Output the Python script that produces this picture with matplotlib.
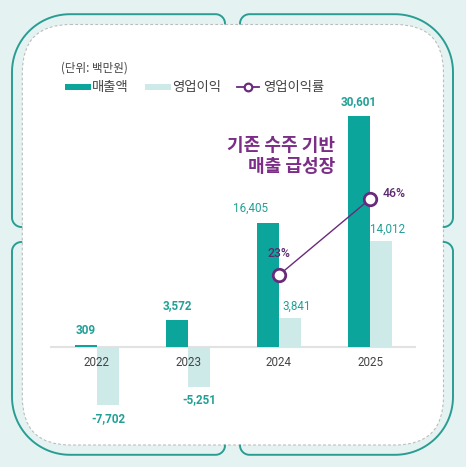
import numpy as np
import matplotlib
matplotlib.use("Agg")
import matplotlib.pyplot as plt
from matplotlib.patches import FancyBboxPatch, Rectangle

# ---------------- data ----------------
years = ["2022", "2023", "2024", "2025"]
revenue = [309, 3572, 16405, 30601]          # 매출액 (백만원)
op_profit = [-7702, -5251, 3841, 14012]      # 영업이익 (백만원)
margin_years = ["2024", "2025"]
op_margin = [23, 46]                         # 영업이익률 (%)

unit_text = "(단위: 백만원)"
legend_labels = ["매출액", "영업이익", "영업이익률"]
headline = "기존 수주 기반\n매출 급성장"

# ---------------- style ----------------
W, H = 466, 467
BG = "#e4f3f2"
TEAL = "#0ca59b"
LIGHT = "#cde9e8"
LABEL_TEAL = "#22a096"
PURPLE = "#6a2a7c"
TITLE_PURPLE = "#7b2d87"
GRAY_TXT = "#444444"
KR = ["Noto Sans CJK KR", "DejaVu Sans"]
NUM = ["Roboto", "Noto Sans CJK KR", "DejaVu Sans"]

fig = plt.figure(figsize=(W / 100, H / 100), dpi=100)
fig.patch.set_facecolor(BG)

# background axes in pixel coordinates (decoration)
bg = fig.add_axes([0, 0, 1, 1], zorder=0)
bg.set_xlim(0, W)
bg.set_ylim(H, 0)
bg.axis("off")

panel = FancyBboxPatch((22.3, 24.5), 443.5 - 22.3, 445 - 24.5,
                       boxstyle="round,pad=0,rounding_size=48",
                       facecolor="white", edgecolor="#bcbcbc",
                       linewidth=0.8, linestyle=(0, (2.5, 2)))
bg.add_patch(panel)

cx, cy, g = 232.5, 234.5, 7.5
Wq, Hq, R, r = 220.5, 220.3, 58, 9.5


def arc(c, a0, a1, rad, n=30):
    t = np.radians(np.linspace(a0, a1, n))
    return np.c_[c[0] + rad * np.cos(t), c[1] + rad * np.sin(t)]


pts = np.vstack([
    arc((g + r, Hq - r), 180, 90, r),
    arc((Wq - R, Hq - R), 90, 0, R),
    arc((Wq - r, g + r), 0, -90, r),
])
for sx, sy in [(-1, -1), (1, -1), (-1, 1), (1, 1)]:
    bg.plot(cx + sx * pts[:, 0], cy + sy * pts[:, 1], color="#2a9d93",
            lw=1.4, solid_capstyle="round")

# unit + legend (pixel coordinates)
bg.text(61, 68, unit_text, fontsize=8.3, color=GRAY_TXT, family=KR,
        va="center", ha="left")
bg.add_patch(Rectangle((65, 84), 26, 6, color=TEAL, lw=0))
bg.text(92, 87.5, legend_labels[0], fontsize=9.6, color=GRAY_TXT, family=KR,
        va="center", ha="left")
bg.add_patch(Rectangle((145, 84), 26, 6, color=LIGHT, lw=0))
bg.text(172, 87.5, legend_labels[1], fontsize=9.6, color=GRAY_TXT, family=KR,
        va="center", ha="left")
bg.plot([237, 259], [87, 87], color=PURPLE, lw=1.3)
bg.plot([248], [87], marker="o", ms=5.5, mfc="white", mec=PURPLE, mew=1.6)
bg.text(263, 87.5, legend_labels[2], fontsize=9.6, color=GRAY_TXT, family=KR,
        va="center", ha="left")

# ---------------- main chart ----------------
ax_l, ax_r, ax_t, ax_b = 50, 416, 100, 440
ax = fig.add_axes([ax_l / W, 1 - ax_b / H, (ax_r - ax_l) / W, (ax_b - ax_t) / H],
                  zorder=2)
ax.patch.set_alpha(0)
k = 0.00756  # px per unit
base_px = 347
ax.set_ylim(-(ax_b - base_px) / k, (base_px - ax_t) / k)
step = 91
ax.set_xlim(-(97 - ax_l) / step, (ax_r - 97) / step)
for s in ax.spines.values():
    s.set_visible(False)
ax.set_yticks([])
ax.set_xticks([])

x = np.arange(len(years))
bw = 22 / step
ax.bar(x - bw / 2, revenue, bw, color=TEAL, zorder=3)
ax.bar(x + bw / 2, op_profit, bw, color=LIGHT, zorder=3)
ax.axhline(0, color="#e2e2e2", lw=1.5, zorder=2)

# year labels drawn over the bars
for xi, yl in zip(x, years):
    ax.annotate(yl, (xi, 0), xytext=(0, -16 * 0.72), textcoords="offset points",
                ha="center", va="center", family=NUM, fontsize=8.4,
                color=GRAY_TXT, zorder=10)

# value labels
rev_weight = ["bold", "bold", "normal", "bold"]
rev_dx = [0, 0, -17, 0]
for xi, v, wgt, dx in zip(x, revenue, rev_weight, rev_dx):
    ax.annotate(f"{v:,}", (xi - bw / 2, v), xytext=(dx * 0.72, 14.5 * 0.72),
                textcoords="offset points", ha="center", va="center",
                family=NUM, fontsize=8.4, color=LABEL_TEAL,
                fontweight=wgt, zorder=5)
prof_weight = ["bold", "bold", "normal", "normal"]
prof_dx = [0, 0, 7, 7]
for xi, v, wgt, dx in zip(x, op_profit, prof_weight, prof_dx):
    dy = 12 if v > 0 else -13
    ax.annotate(f"{v:,}", (xi + bw / 2, v), xytext=(dx * 0.72, dy * 0.72),
                textcoords="offset points", ha="center", va="center",
                family=NUM, fontsize=8.4, color=LABEL_TEAL,
                fontweight=wgt, zorder=5)

# operating margin line on twin axis
ax2 = ax.twinx()
ax2.set_zorder(3)
ax2.patch.set_alpha(0)
slope = 3.304
zero_px = 351
ax2.set_ylim(-(ax_b - zero_px) / slope, (zero_px - ax_t) / slope)
ax2.set_yticks([])
for s in ax2.spines.values():
    s.set_visible(False)
mx = [years.index(yv) for yv in margin_years]
ax2.plot(mx, op_margin, color=PURPLE, lw=1.0, marker="o", ms=9, mfc="white",
         mec=PURPLE, mew=2.0, zorder=6)
offsets = [((0, 22), "center"), ((13, 6), "left")]
for xi, v, (off, ha) in zip(mx, op_margin, offsets):
    ax2.annotate(f"{v}%", (xi, v), xytext=(off[0] * 0.72, off[1] * 0.72),
                 textcoords="offset points", ha=ha, va="center",
                 family=NUM, fontsize=8.8, color="#5b2a6e",
                 fontweight="medium", zorder=7)

# headline
bg.text(335, 136, headline, fontsize=13, color=TITLE_PURPLE, family=KR,
        fontweight="bold", ha="right", va="top", multialignment="right",
        linespacing=1.1, zorder=8)

fig.savefig("out.png", dpi=100, facecolor=fig.get_facecolor())
